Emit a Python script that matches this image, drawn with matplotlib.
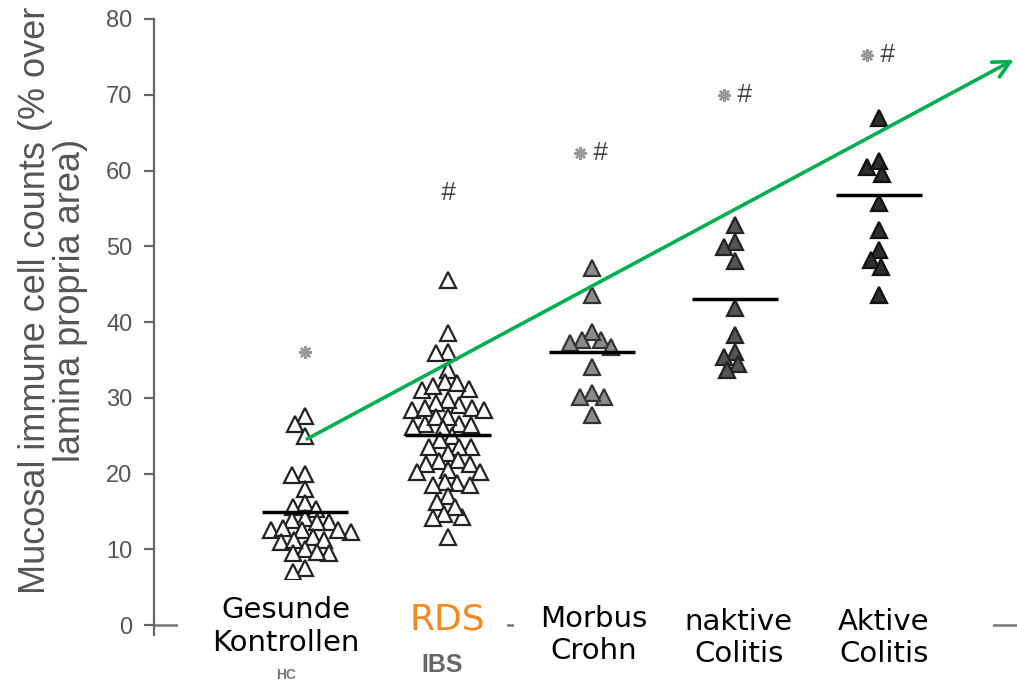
import numpy as np
import matplotlib.pyplot as plt
from matplotlib.patches import Rectangle

# Werte (% der Lamina-propria-Fläche)
hc = [27.6, 26.5, 24.9, 20.0, 19.8, 18.0, 16.1, 15.6, 15.3, 14.1, 13.9, 13.6, 13.6,
      12.5, 12.8, 12.3, 12.5, 12.5, 11.7, 10.1, 11.2, 11.0, 11.2, 9.5, 9.5, 9.7, 7.5, 7.0]
ibs = [45.5, 38.5, 36.1, 35.9, 33.7, 32.1, 31.2, 31.9, 31.0, 31.5, 29.0, 28.6, 28.4,
       29.7, 28.4, 29.3, 28.6, 26.6, 26.6, 27.5, 26.2, 27.5, 26.4, 24.9, 26.0, 24.4,
       23.5, 23.5, 23.5, 22.7, 21.8, 21.3, 21.6, 21.3, 20.2, 20.2, 20.5, 18.7, 18.5,
       18.9, 18.5, 17.0, 16.3, 14.3, 15.6, 14.7, 14.1, 11.7]
cd = [47.1, 43.6, 37.6, 38.7, 37.6, 37.2, 36.7, 34.1, 30.1, 30.6, 30.1, 27.7]
uc_inaktiv = [52.8, 50.6, 49.9, 48.0, 41.9, 38.3, 36.1, 35.4, 34.5, 33.7]
uc_aktiv = [66.9, 60.5, 61.2, 59.6, 55.7, 52.1, 49.5, 48.2, 47.3, 43.6]

gruppen = [hc, ibs, cd, uc_inaktiv, uc_aktiv]
mittel = [14.9, 25.1, 36.0, 43.0, 56.8]
stern = [36.0, None, 62.3, 70.0, 75.2]
raute = [None, 57.0, 62.3, 70.0, 75.2]
orig_labels = ['HC', 'IBS']
de_labels = ['Gesunde\nKontrollen', 'RDS', 'Morbus\nCrohn', 'naktive\nColitis', 'Aktive\nColitis']
trend_start = (1.0, 24.4)
trend_end = (5.96, 74.8)

faces = ['white', 'white', '#8c8c8c', '#555555', '#2e2e2e']
edges = ['#222222', '#222222', '#333333', '#222222', '#111111']

fig = plt.figure(figsize=(10.17, 6.82), dpi=100)
ax = fig.add_axes([154 / 1017, 1 - 635 / 682, 1 - 154 / 1017, 616 / 682])
ax.set_xlim(-0.05, 5.965)
ax.set_ylim(-1.3, 80)

# Pixel pro Einheit, für das Beeswarm-Layout
px_x = 863 / 6.015
px_y = 616 / 81.3
d = 12.5


def swarm(vals):
    order = np.argsort(vals)[::-1]
    placed = []
    offs = np.zeros(len(vals))
    for i in order:
        y = vals[i] * px_y
        cands = [0.0]
        for (xj, yj) in placed:
            dy = y - yj
            if abs(dy) < d:
                dx = np.sqrt(d ** 2 - dy ** 2)
                cands += [xj + dx, xj - dx]
        cands = sorted(cands, key=lambda c: (abs(c), c))
        for c in cands:
            if all((c - xj) ** 2 + (y - yj) ** 2 >= d ** 2 - 1e-6 for (xj, yj) in placed):
                placed.append((c, y))
                offs[i] = c / px_x
                break
    return offs


for k, vals in enumerate(gruppen):
    x0 = k + 1
    offs = swarm(vals)
    ax.plot(x0 + offs, vals, linestyle='none', marker='^', markersize=11,
            markerfacecolor=faces[k], markeredgecolor=edges[k], markeredgewidth=1.6, zorder=3)
    ax.hlines(mittel[k], x0 - 0.3, x0 + 0.3, color='black', lw=2.5, zorder=4)
    if stern[k] is not None:
        sx = x0 if raute[k] is None else x0 - 0.08
        ax.plot(sx, stern[k], marker=(8, 2, 0), markersize=9, color='#9a9a9a',
                markeredgewidth=1.8, linestyle='none')
    if raute[k] is not None:
        rx = x0 if stern[k] is None else x0 + 0.06
        ax.text(rx, raute[k], '#', fontsize=19, color='#444444', style='italic',
                ha='center', va='center', family='Liberation Sans')

# Trendpfeil
ax.annotate('', xy=trend_end, xytext=trend_start, annotation_clip=False,
            arrowprops=dict(arrowstyle='->', color='#00b050', lw=2.6, mutation_scale=30),
            zorder=6)

# Achsen
ax.axhline(0, color='#777777', lw=1.8, zorder=1, clip_on=False)
for s in ['top', 'right', 'bottom']:
    ax.spines[s].set_visible(False)
ax.spines['left'].set_color('#666666')
ax.spines['left'].set_linewidth(1.6)
ax.set_xticks([])
ax.set_yticks(np.arange(0, 81, 10))
ax.tick_params(axis='y', length=7.5, width=1.6, color='#666666', labelcolor='#555555',
               labelsize=17, pad=8)
for t in ax.get_yticklabels():
    t.set_family('Liberation Sans')

fig.text(53 / 1017, 1 - 300 / 682, 'Mucosal immune cell counts (% over\nlamina propria area)',
         rotation=90, ha='center', va='center', fontsize=26, color='#555555',
         family='Liberation Sans', linespacing=1.0, multialignment='center')

# ursprüngliche Beschriftungen (teilweise verdeckt)
ax.text(0.87, -6.6, orig_labels[0], ha='center', va='center', fontsize=10,
        color='#777777', family='Liberation Sans', weight='bold', clip_on=False)
ax.text(1.96, -5.3, orig_labels[1], ha='center', va='center', fontsize=18,
        color='#666666', family='Liberation Sans', weight='bold', clip_on=False)

# weiße Felder über der Originalbeschriftung
felder = [(0.117, 1.73, -5.8, 5.94), (1.66, 2.41, -3.3, 3.96), (2.46, 5.80, -7.6, 3.96)]
for (x0, x1, y0, y1) in felder:
    ax.add_patch(Rectangle((x0, y0), x1 - x0, y1 - y0, facecolor='white', edgecolor='none',
                           clip_on=False, zorder=5))

lab_x = [0.868, 1.995, 3.017, 4.026, 5.035]
lab_y = [-0.2, 0.8, -1.3, -1.7, -1.7]
for k, lab in enumerate(de_labels):
    col = '#f28a1e' if lab == 'RDS' else 'black'
    fs = 26 if lab == 'RDS' else 21
    ax.text(lab_x[k], lab_y[k], lab, ha='center', va='center', fontsize=fs, color=col,
            family='DejaVu Sans', linespacing=1.2, clip_on=False, zorder=6)

fig.savefig('out.png', dpi=100)
